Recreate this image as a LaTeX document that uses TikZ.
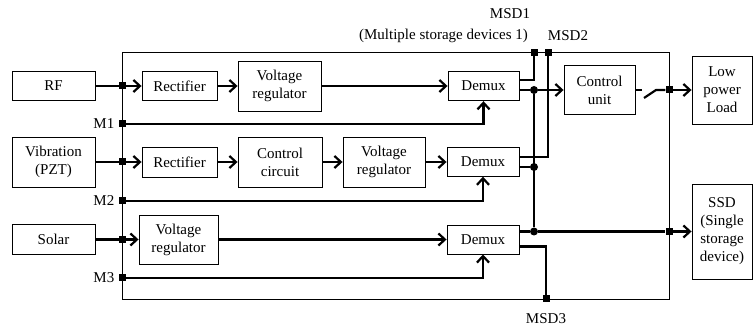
\documentclass[tikz,border=0pt]{standalone}
\usepackage{fontspec}
\setmainfont{Liberation Serif}
\usetikzlibrary{arrows.meta}

\begin{document}
\begin{tikzpicture}[x=1pt,y=1pt,>={Straight Barb[length=6.5pt,width=12pt]},
  font=\fontsize{15}{18}\selectfont,
  blk/.style={draw,line width=0.9pt,align=center,inner sep=0pt},
  conn/.style={line width=2.2pt},
  port/.style={fill,rectangle,minimum size=7pt,inner sep=0pt},
  dot/.style={fill,circle,minimum size=8pt,inner sep=0pt}]
  \useasboundingbox (0,0) rectangle (753,329);
  \draw[line width=0.9pt] (122.5,30) rectangle (669,276.5);
  % sources
  \node[blk,minimum width=83pt,minimum height=29.5pt] (RF) at (53.5,243) {RF};
  \node[blk,minimum width=83pt,minimum height=50pt] (Vib) at (53.5,167) {Vibration\\(PZT)};
  \node[blk,minimum width=83pt,minimum height=29.5pt] (Sol) at (53.5,89.5) {Solar};
  % row 1
  \node[blk,minimum width=75pt,minimum height=29.5pt] (RectA) at (179.5,243) {Rectifier};
  \node[blk,minimum width=83pt,minimum height=50pt] (VRA) at (279.5,243) {Voltage\\regulator};
  \node[blk,minimum width=71pt,minimum height=29.5pt] (DmA) at (483.5,243) {Demux};
  % row 2
  \node[blk,minimum width=75pt,minimum height=30pt] (RectB) at (179.5,167) {Rectifier};
  \node[blk,minimum width=84pt,minimum height=50pt] (CC) at (280,167) {Control\\circuit};
  \node[blk,minimum width=82pt,minimum height=50pt] (VRB) at (384,167) {Voltage\\regulator};
  \node[blk,minimum width=72pt,minimum height=28.5pt] (DmB) at (483,167) {Demux};
  % row 3
  \node[blk,minimum width=79pt,minimum height=49pt] (VRC) at (178.5,89.5) {Voltage\\regulator};
  \node[blk,minimum width=72pt,minimum height=29pt] (DmC) at (483,89.5) {Demux};
  % outputs
  \node[blk,minimum width=71pt,minimum height=49pt] (CU) at (599.5,239) {Control\\unit};
  \node[blk,minimum width=60pt,minimum height=68pt] (LPL) at (722,239) {Low\\power\\Load};
  \node[blk,minimum width=60pt,minimum height=95pt] (SSD) at (722,97.5) {SSD\\(Single\\storage\\device)};
  % ports on the frame
  \node[port] (pRF) at (122.5,243) {};
  \node[port] (pVib) at (122.5,167) {};
  \node[port] (pSol) at (122.5,89.5) {};
  \node[port,label={[label distance=1pt]left:M1}] (pM1) at (122.5,205) {};
  \node[port,label={[label distance=1pt]left:M2}] (pM2) at (122.5,128) {};
  \node[port,label={[label distance=1pt]left:M3}] (pM3) at (122.5,51) {};
  \node[port] (pMSD1) at (534,276.5) {};
  \node[port] (pMSD2) at (548,276.5) {};
  \node[port] (pMSD3) at (546,30) {};
  \node[port] (pLPL) at (669,239) {};
  \node[port] (pSSD) at (669,97.5) {};
  \node[dot] (jA) at (534,239) {};
  \node[dot] (jB) at (534,162) {};
  \node[dot] (jC) at (534,97.5) {};
  \coordinate (swA) at (642,239);
  \coordinate (swB) at (644,231);
  \coordinate (swC) at (656,239);
  % inputs
  \draw[conn] (RF) -- (pRF);
  \draw[conn,->] (pRF) -- (RectA);
  \draw[conn,->] (RectA) -- (VRA);
  \draw[conn,->] (VRA) -- (DmA);
  \draw[conn] (Vib) -- (pVib);
  \draw[conn,->] (pVib) -- (RectB);
  \draw[conn,->] (RectB) -- (CC);
  \draw[conn,->] (CC) -- (VRB);
  \draw[conn,->] (VRB) -- (DmB);
  \draw[conn] (Sol) -- (pSol);
  \draw[conn,->] (pSol) -- (VRC);
  \draw[conn,->] (VRC) -- (DmC);
  \draw[conn,->] (pM1) -| (DmA);
  \draw[conn,->] (pM2) -| (DmB);
  \draw[conn,->] (pM3) -| (DmC);
  % demux outputs
  \draw[conn] ([yshift=6pt]DmA.east) -| (pMSD1);
  \draw[conn] ([yshift=-4pt]DmA.east) -- (jA);
  \draw[conn] ([yshift=5pt]DmB.east) -| (pMSD2);
  \draw[conn] ([yshift=-5pt]DmB.east) -- (jB);
  \draw[conn] ([yshift=8pt]DmC.east) -- (jC);
  \draw[conn] ([yshift=-7pt]DmC.east) -| (pMSD3);
  \draw[conn] (jA) -- (jC);
  \draw[conn,->] (jA) -- (CU);
  \draw[conn] (jC) -- (pSSD);
  \draw[conn,->] (pSSD) -- (SSD);
  % switch
  \draw[conn] (CU) -- (swA);
  \draw[conn] (swB) -- (swC) -- (pLPL);
  \draw[conn,->] (pLPL) -- (LPL);
  % labels
  \node at (510,315) {MSD1};
  \node at (443.5,293) {(Multiple storage devices 1)};
  \node at (568,293) {MSD2};
  \node at (546,10) {MSD3};
\end{tikzpicture}
\end{document}
